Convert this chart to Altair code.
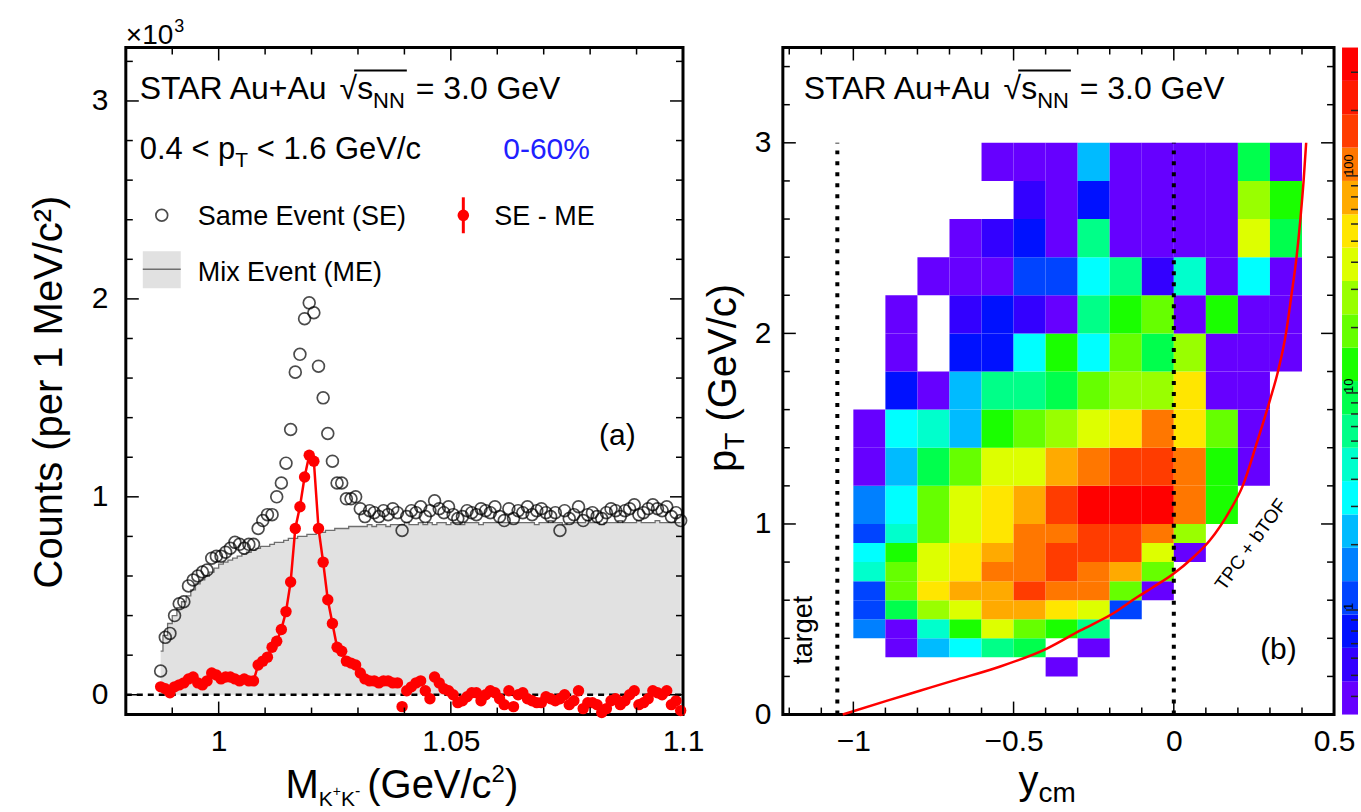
import math
import altair as alt
import pandas as pd

FONT = "Liberation Sans"

# ---------------------------------------------------------------- panel (a) data
MASS_FIRST_CENTRE = 0.9875   # GeV/c^2, centre of first 1 MeV bin
MASS_BIN = 0.001

se_counts = [  # Same Event, x10^3 per 1 MeV/c^2
    0.12, 0.29, 0.31, 0.40, 0.46, 0.47, 0.55, 0.58, 0.60, 0.62,
    0.63, 0.69, 0.70, 0.70, 0.72, 0.74, 0.77, 0.76, 0.74, 0.76,
    0.76, 0.84, 0.88, 0.91, 0.91, 1.00, 1.07, 1.17, 1.34, 1.63,
    1.72, 1.90, 1.98, 1.93, 1.66, 1.50, 1.32, 1.18, 1.07, 1.07,
    0.99, 0.99, 1.00, 0.94, 0.90, 0.93, 0.92, 0.90, 0.93, 0.91,
    0.94, 0.92, 0.83, 0.90, 0.93, 0.92, 0.95, 0.90, 0.93, 0.98,
    0.94, 0.92, 0.95, 0.91, 0.89, 0.90, 0.93, 0.92, 0.91, 0.94,
    0.93, 0.92, 0.95, 0.90, 0.88, 0.94, 0.89, 0.93, 0.92, 0.95,
    0.91, 0.93, 0.94, 0.92, 0.90, 0.92, 0.83, 0.93, 0.89, 0.91,
    0.95, 0.88, 0.91, 0.92, 0.90, 0.89, 0.92, 0.94, 0.93, 0.90,
    0.93, 0.94, 0.96, 0.91, 0.92, 0.94, 0.96, 0.94, 0.93, 0.95,
    0.90, 0.92, 0.88,
]
me_counts = [  # Mixed Event (normalised)
    0.22, 0.30, 0.36, 0.40, 0.44, 0.47, 0.50, 0.53, 0.56, 0.58,
    0.60, 0.62, 0.64, 0.66, 0.67, 0.68, 0.69, 0.70, 0.71, 0.72,
    0.73, 0.74, 0.75, 0.75, 0.76, 0.77, 0.77, 0.78, 0.79, 0.79,
    0.80, 0.80, 0.81, 0.81, 0.82, 0.82, 0.83, 0.83, 0.84, 0.84,
    0.84, 0.85, 0.85, 0.85, 0.85, 0.86, 0.85, 0.86, 0.86, 0.85,
    0.86, 0.86, 0.86, 0.87, 0.86, 0.86, 0.87, 0.86, 0.87, 0.86,
    0.87, 0.87, 0.86, 0.87, 0.87, 0.86, 0.87, 0.87, 0.87, 0.86,
    0.87, 0.87, 0.87, 0.87, 0.87, 0.87, 0.87, 0.87, 0.87, 0.87,
    0.87, 0.86, 0.87, 0.87, 0.88, 0.87, 0.87, 0.86, 0.87, 0.87,
    0.87, 0.87, 0.88, 0.87, 0.87, 0.86, 0.87, 0.87, 0.87, 0.88,
    0.87, 0.87, 0.87, 0.88, 0.87, 0.87, 0.87, 0.88, 0.87, 0.87,
    0.87, 0.87, 0.87,
]
sub_counts = [  # SE - ME
    0.04, 0.03, 0.01, 0.04, 0.05, 0.06, 0.08, 0.09, 0.06, 0.05,
    0.07, 0.11, 0.10, 0.08, 0.09, 0.09, 0.08, 0.07, 0.08, 0.07,
    0.07, 0.15, 0.17, 0.19, 0.24, 0.27, 0.33, 0.42, 0.57, 0.84,
    0.95, 1.10, 1.21, 1.18, 0.84, 0.67, 0.48, 0.36, 0.24, 0.22,
    0.17, 0.16, 0.15, 0.11, 0.08, 0.07, 0.07, 0.06, 0.07, 0.07,
    0.06, 0.06, -0.06, 0.02, 0.04, 0.06, 0.07, 0.02, -0.02, 0.09,
    0.06, 0.03, 0.02, 0.00, -0.04, -0.03, -0.01, 0.01, 0.01, -0.03,
    0.00, 0.02, 0.01, -0.02, -0.05, 0.02, -0.06, 0.00, 0.01, -0.02,
    -0.03, -0.04, -0.04, -0.01, -0.02, -0.03, -0.02, 0.00, -0.05, -0.03,
    0.02, -0.07, -0.04, -0.04, -0.05, -0.09, -0.07, -0.03, -0.02, -0.05,
    -0.03, 0.00, 0.02, -0.05, -0.04, -0.02, 0.02, 0.01, 0.00, 0.02,
    -0.05, -0.03, -0.08,
]
fit_range = [1.0065, 1.0315]   # range drawn with the red line

mass_x_major = [1.0, 1.05, 1.1]
mass_x_minor = [0.99, 1.01, 1.02, 1.03, 1.04, 1.06, 1.07, 1.08, 1.09]
counts_y_major = [0, 1, 2, 3]
counts_y_minor = [0.2, 0.4, 0.6, 0.8, 1.2, 1.4, 1.6, 1.8, 2.2, 2.4, 2.6, 2.8, 3.2]

# ---------------------------------------------------------------- panel (b) data
N = None
y_bin_low = [-1.0, -0.9, -0.8, -0.7, -0.6, -0.5, -0.4, -0.3, -0.2, -0.1, 0.0, 0.1, 0.2, 0.3]
y_bin_high = [-0.9, -0.8, -0.7, -0.6, -0.5, -0.4, -0.3, -0.2, -0.1, 0.0, 0.1, 0.2, 0.3, 0.4]
pt_bin_low = [0.2, 0.3, 0.4, 0.5, 0.6, 0.7, 0.8, 0.9, 1.0, 1.2, 1.4, 1.6, 1.8, 2.0, 2.2, 2.4, 2.6, 2.8]
pt_bin_high = [0.3, 0.4, 0.5, 0.6, 0.7, 0.8, 0.9, 1.0, 1.2, 1.4, 1.6, 1.8, 2.0, 2.2, 2.4, 2.6, 2.8, 3.0]

cnt_pt_020 = [N, N, N, N, N, N, 0.4, N, N, N, N, N, N, N]
cnt_pt_030 = [N, 0.4, 2.3, 3.3, 6.7, 9.5, N, 0.4, N, N, N, N, N, N]
cnt_pt_040 = [1.6, 0.4, 4.7, 13.5, 39, 19, 13.5, 6.7, N, N, N, N, N, N]
cnt_pt_050 = [1.15, 9.5, 27, 39, 79, 79, 56, 39, 1.15, N, N, N, N, N]
cnt_pt_060 = [1.15, 19, 56, 79, 79, 161, 113, 113, 19, 0.4, N, N, N, N]
cnt_pt_070 = [4.7, 19, 39, 56, 113, 113, 161, 113, 79, 19, N, N, N, N]
cnt_pt_080 = [3.3, 13.5, 39, 56, 79, 113, 161, 161, 161, 39, 0.4, N, N, N]
cnt_pt_090 = [1.15, 4.7, 19, 39, 56, 113, 113, 161, 161, 113, 27, N, N, N]
cnt_pt_100 = [1.6, 3.3, 19, 39, 56, 79, 161, 326, 326, 326, 113, 13.5, N, N]
cnt_pt_120 = [0.4, 2.3, 9.5, 19, 39, 39, 79, 113, 161, 161, 113, 13.5, 0.4, N]
cnt_pt_140 = [0.4, 3.3, 4.7, 2.3, 13.5, 19, 27, 39, 56, 113, 56, 19, 0.4, N]
cnt_pt_160 = [N, 0.8, 0.4, 2.3, 6.7, 6.7, 9.5, 19, 27, 27, 56, 0.4, 0.4, N]
cnt_pt_180 = [N, 0.4, N, 0.8, 0.8, 3.3, 13.5, 3.3, 19, 9.5, 27, 0.4, 0.4, 0.4]
cnt_pt_200 = [N, 0.4, N, 0.55, 0.8, 0.55, 0.4, 6.7, 13.5, 19, 0.4, 13.5, 0.4, 0.4]
cnt_pt_220 = [N, N, 0.4, 0.4, 0.4, 1.15, 1.15, 3.3, 6.7, 0.55, 4.7, 0.4, 3.3, 0.4]
cnt_pt_240 = [N, N, N, 0.4, 0.55, 0.8, 0.4, 6.7, 0.4, 0.4, 0.4, 0.4, 39, 9.5]
cnt_pt_260 = [N, N, N, N, N, 0.55, 0.4, 0.8, 0.4, 0.4, 0.4, 0.4, 27, 13.5]
cnt_pt_280 = [N, N, N, N, 0.4, 0.4, 0.4, 2.3, 0.4, 0.4, 0.4, 0.4, 9.5, 0.4]

# TPC + bTOF acceptance boundary (red curve)
curve_y = [-1.033, -0.894, -0.79, -0.688, -0.551, -0.396, -0.293, -0.19, -0.116, -0.066,
           0.0, 0.06, 0.112, 0.175, 0.215, 0.258, 0.30, 0.325, 0.35, 0.367,
           0.383, 0.395, 0.405, 0.413]
curve_pt = [0.0, 0.073, 0.126, 0.178, 0.247, 0.346, 0.44, 0.53, 0.614, 0.667,
            0.74, 0.824, 0.913, 1.07, 1.20, 1.42, 1.65, 1.8, 2.0, 2.2,
            2.4, 2.6, 2.8, 3.0]

ref_line_y = [-1.05, 0.0]     # target rapidity and mid-rapidity
ref_line_pt = [0.0, 3.0]

rap_x_major = [-1, -0.5, 0, 0.5]
rap_x_minor = [-1.2, -1.1, -0.9, -0.8, -0.7, -0.6, -0.4, -0.3, -0.2, -0.1, 0.1, 0.2, 0.3, 0.4]
pt_y_major = [0, 1, 2, 3]
pt_y_minor = [0.2, 0.4, 0.6, 0.8, 1.2, 1.4, 1.6, 1.8, 2.2, 2.4, 2.6, 2.8, 3.2, 3.4]

z_min, z_max = 0.33, 390.0
cb_major = [1, 10, 100]
cb_major_labels = ["1", "10", "100"]
cb_minor = [0.4, 0.5, 0.6, 0.7, 0.8, 0.9, 2, 3, 4, 5, 6, 7, 8, 9,
            20, 30, 40, 50, 60, 70, 80, 90, 200, 300]

palette = ["#6600ff", "#3300ff", "#0011ff", "#0044ff", "#0080ff", "#00bbff", "#00ffff",
           "#00ffcc", "#00ff88", "#00ff4d", "#1aff00", "#66ff00", "#99ff00", "#ddff00",
           "#ffe600", "#ffaa00", "#ff7700", "#ff3c00", "#ff1a00", "#ff0000"]

# ---------------------------------------------------------------- helpers
ONE = pd.DataFrame({"a": [0]})

CHAR_W = {" ": 278, "(": 333, ")": 333, "+": 584, "-": 333, ".": 278, "/": 278, "<": 584,
          "=": 584, "%": 889, "A": 667, "C": 722, "E": 667, "F": 611, "G": 778, "K": 667,
          "M": 833, "N": 722, "O": 778, "P": 667, "R": 722, "S": 667, "T": 611, "V": 667,
          "a": 556, "b": 556, "c": 500, "e": 556, "g": 556, "i": 222, "m": 833, "n": 556,
          "o": 556, "p": 556, "r": 333, "s": 500, "t": 278, "u": 556, "v": 500, "x": 500,
          "y": 500, "\u00d7": 584, "\u221a": 549}


def tw(s, size):
    return sum(CHAR_W.get(c, 556) for c in s) * size / 1000.0


def txt(s, x, y, size, color="black", align="left", angle=0, dx=0.0, dy=0.0, baseline="alphabetic"):
    return alt.Chart(ONE).mark_text(
        text=s, font=FONT, fontSize=size, color=color, align=align, baseline=baseline,
        angle=angle, dx=dx, dy=dy,
    ).encode(x=alt.value(x), y=alt.value(y))


def seq(pieces, x, y, angle=0, color="black"):
    """pieces: (text, size, baseline shift, gap before) -- gaps replace leading spaces,
    which SVG would collapse."""
    out, off = [], 0.0
    for s, size, shift, gap in pieces:
        off += gap
        out.append(txt(s, x, y, size, color=color, angle=angle, dx=off, dy=shift))
        off += tw(s, size)
    return out


def hline(x0, x1, y, color="black", width=2.0):
    return alt.Chart(ONE).mark_rule(color=color, strokeWidth=width).encode(
        x=alt.value(x0), x2=alt.value(x1), y=alt.value(y))


def star_label(x, y):
    sp = tw(" ", 32)
    pieces = [("STAR Au+Au", 32, 0, 0), ("\u221a", 32, 0, sp), ("s", 32, 0, 0),
              ("NN", 22, 9, 0), ("= 3.0 GeV", 32, 0, sp + 2)]
    layers = seq(pieces, x, y)
    xb0 = x + tw("STAR Au+Au \u221a", 32) - 3
    xb1 = x + tw("STAR Au+Au \u221as", 32) + tw("NN", 22) + 2
    layers.append(hline(xb0, xb1, y - 29, width=1.8))
    return layers


def frame_ticks(xs, ys, axx, axy, W, H, x_major, x_minor, y_major, y_minor, maj=13, mnr=7):
    layers = []
    for vals, L in ((x_major, maj), (x_minor, mnr)):
        base = alt.Chart(pd.DataFrame({"t": vals})).mark_rule(color="black", strokeWidth=1.5)
        xenc = alt.X("t:Q", scale=xs, axis=axx, title=None)
        layers.append(base.encode(x=xenc, y=alt.value(H), y2=alt.value(H - L)))
        layers.append(base.encode(x=xenc, y=alt.value(0), y2=alt.value(L)))
    for vals, L in ((y_major, maj), (y_minor, mnr)):
        base = alt.Chart(pd.DataFrame({"t": vals})).mark_rule(color="black", strokeWidth=1.5)
        yenc = alt.Y("t:Q", scale=ys, axis=axy, title=None)
        layers.append(base.encode(y=yenc, x=alt.value(0), x2=alt.value(L)))
        layers.append(base.encode(y=yenc, x=alt.value(W), x2=alt.value(W - L)))
    return layers


AXIS = dict(domain=False, ticks=False, grid=False, labelFont=FONT, labelFontSize=30,
            labelColor="black", labelFlush=False, labelOverlap=False, format="~g")

# ---------------------------------------------------------------- panel (a)
W_A, H_A = 558, 668
xa = alt.Scale(domain=[0.98, 1.1], nice=False, zero=False)
ya = alt.Scale(domain=[-0.1, 3.27], nice=False, zero=False)
ax_xa = alt.Axis(values=mass_x_major, labelPadding=12, **AXIS)
ax_ya = alt.Axis(values=counts_y_major, labelPadding=18, **AXIS)


def XA(f):
    return alt.X(f, scale=xa, axis=ax_xa, title=None)


def YA(f):
    return alt.Y(f, scale=ya, axis=ax_ya, title=None)


mass = [round(MASS_FIRST_CENTRE + MASS_BIN * i, 4) for i in range(len(se_counts))]
df_a = pd.DataFrame({"m": mass, "se": se_counts, "me": me_counts, "sub": sub_counts})

me_area = alt.Chart(df_a).mark_area(interpolate="step", color="#e1e1e1").encode(
    x=XA("m:Q"), y=YA("me:Q"), y2=alt.datum(0))
me_line = alt.Chart(df_a).mark_line(interpolate="step", color="#6f6f6f", strokeWidth=1.3).encode(
    x=XA("m:Q"), y=YA("me:Q"))
zero_line = alt.Chart(pd.DataFrame({"z": [0.0]})).mark_rule(
    color="black", strokeWidth=2.5, strokeDash=[6, 5]).encode(
    y=YA("z:Q"), x=alt.value(0), x2=alt.value(W_A))
se_pts = alt.Chart(df_a).mark_point(shape="circle", filled=False, color="black", size=140, strokeWidth=1.7).encode(
    x=XA("m:Q"), y=YA("se:Q"))
sub_line = alt.Chart(df_a).transform_filter(
    (alt.datum.m >= fit_range[0]) & (alt.datum.m <= fit_range[1])
).mark_line(color="#ff0000", strokeWidth=2.5).encode(x=XA("m:Q"), y=YA("sub:Q"))
sub_pts = alt.Chart(df_a).mark_circle(color="#ff0000", size=130, opacity=1).encode(
    x=XA("m:Q"), y=YA("sub:Q"))

anchor = alt.Chart(ONE).mark_rule(strokeOpacity=0, color="white").encode(
    x=alt.value(-124), x2=alt.value(-123), y=alt.value(-45), y2=alt.value(-44))

layers_a = [anchor, me_area, me_line, zero_line, se_pts, sub_line, sub_pts]
layers_a += frame_ticks(xa, ya, ax_xa, ax_ya, W_A, H_A, mass_x_major, mass_x_minor,
                        counts_y_major, counts_y_minor)
layers_a += seq([("\u00d710", 28, 0, 0), ("3", 18, -12, 1)], 0, -4)
layers_a += star_label(14, 52)
layers_a += seq([("0.4 < p", 31, 0, 0), ("T", 21, 8, 0), ("< 1.6 GeV/c", 31, 0, tw(" ", 31))], 14, 112)
layers_a.append(txt("0-60%", 378, 112, 30, color="#2020ff"))
# legend
layers_a.append(alt.Chart(ONE).mark_point(shape="circle", filled=False, color="black", size=140, strokeWidth=1.7)
                .encode(x=alt.value(36), y=alt.value(168)))
layers_a.append(txt("Same Event (SE)", 72, 178, 27))
layers_a.append(alt.Chart(ONE).mark_rule(color="#ff0000", strokeWidth=3)
                .encode(x=alt.value(338), y=alt.value(150), y2=alt.value(186)))
layers_a.append(alt.Chart(ONE).mark_circle(color="#ff0000", size=135, opacity=1)
                .encode(x=alt.value(338), y=alt.value(168)))
layers_a.append(txt("SE - ME", 369, 178, 27))
layers_a.append(alt.Chart(ONE).mark_rect(color="#e1e1e1")
                .encode(x=alt.value(17), x2=alt.value(55), y=alt.value(204), y2=alt.value(241)))
layers_a.append(hline(17, 55, 222, color="#6f6f6f", width=1.5))
layers_a.append(txt("Mix Event (ME)", 72, 234, 27))
layers_a.append(txt("(a)", 474, 398, 30))
# axis titles
layers_a.append(txt("Counts (per 1 MeV/c\u00b2)", -64, 345, 40, align="center", angle=270))
layers_a += seq([("M", 40, 0, 0), ("K", 21, 8, 0), ("+", 14, -2, 0), ("K", 21, 8, 0), ("-", 16, -2, 0),
                 ("(GeV/c", 40, 0, 7), ("2", 24, -16, 0), (")", 40, 0, 0)], 160, 752)

left = alt.layer(*layers_a).properties(width=W_A, height=H_A)

# ---------------------------------------------------------------- panel (b)
W_B, H_B = 552, 668
xb = alt.Scale(domain=[-1.22, 0.5], nice=False, zero=False)
yb = alt.Scale(domain=[0, 3.5], nice=False, zero=False)
ax_xb = alt.Axis(values=rap_x_major, labelPadding=12, **AXIS)
ax_yb = alt.Axis(values=pt_y_major, labelPadding=12, **AXIS)


def XB(f):
    return alt.X(f, scale=xb, axis=ax_xb, title=None)


def YB(f):
    return alt.Y(f, scale=yb, axis=ax_yb, title=None)


lo, hi = math.log10(z_min), math.log10(z_max)
step = (hi - lo) / len(palette)
thresholds = [10 ** (lo + step * k) for k in range(1, len(palette))]
cscale = alt.Scale(type="threshold", domain=thresholds, range=palette)

rows = [cnt_pt_020, cnt_pt_030, cnt_pt_040, cnt_pt_050, cnt_pt_060, cnt_pt_070, cnt_pt_080,
        cnt_pt_090, cnt_pt_100, cnt_pt_120, cnt_pt_140, cnt_pt_160, cnt_pt_180, cnt_pt_200,
        cnt_pt_220, cnt_pt_240, cnt_pt_260, cnt_pt_280]
cells = []
for r, row in enumerate(rows):
    for c, v in enumerate(row):
        if v is not None:
            cells.append({"x0": y_bin_low[c], "x1": y_bin_high[c],
                          "p0": pt_bin_low[r], "p1": pt_bin_high[r], "v": v})
df_cells = pd.DataFrame(cells)

heat = alt.Chart(df_cells).mark_rect(strokeWidth=0).encode(
    x=XB("x0:Q"), x2="x1:Q", y=YB("p0:Q"), y2="p1:Q",
    color=alt.Color("v:Q", scale=cscale, legend=None),
)
df_ref = pd.DataFrame({"y": ref_line_y, "p0": [ref_line_pt[0]] * 2, "p1": [ref_line_pt[1]] * 2})
ref_lines = alt.Chart(df_ref).mark_rule(color="black", strokeWidth=4, strokeDash=[4, 7]).encode(
    x=XB("y:Q"), y=YB("p0:Q"), y2="p1:Q")
curve = alt.Chart(pd.DataFrame({"y": curve_y, "pt": curve_pt})).mark_line(
    color="#ff0000", strokeWidth=2.5, interpolate="monotone").encode(
    x=XB("y:Q"), y=YB("pt:Q"), order="pt:Q")

layers_b = [heat, ref_lines, curve]
layers_b += frame_ticks(xb, yb, ax_xb, ax_yb, W_B, H_B, rap_x_major, rap_x_minor, pt_y_major, pt_y_minor)
layers_b += star_label(21, 52)
layers_b.append(txt("target", 29, 618, 27, angle=270))
layers_b.append(txt("TPC + bTOF", 442, 545, 19, angle=306))
layers_b.append(txt("(b)", 478, 612, 30))
layers_b += seq([("p", 40, 0, 0), ("T", 28, 8, 0), ("(GeV/c)", 40, 0, tw(" ", 40))], -47, 425, angle=270)
layers_b += seq([("y", 40, 0, 0), ("cm", 28, 8, 0)], 236, 748)

# colour bar
yc = alt.Scale(type="log", domain=[z_min, z_max], nice=False)
bands = pd.DataFrame({
    "lo": [10 ** (lo + step * k) for k in range(len(palette))],
    "hi": [10 ** (lo + step * (k + 1)) for k in range(len(palette))],
    "mid": [10 ** (lo + step * (k + 0.5)) for k in range(len(palette))],
})
CB0, CB1 = W_B + 8, W_B + 24
cb_rect = alt.Chart(bands).mark_rect(strokeWidth=0).encode(
    x=alt.value(CB0), x2=alt.value(CB1),
    y=alt.Y("lo:Q", scale=yc, axis=None), y2="hi:Q",
    color=alt.Color("mid:Q", scale=cscale, legend=None))
cb_minor_t = alt.Chart(pd.DataFrame({"t": cb_minor})).mark_rule(color="#222222", strokeWidth=1.5).encode(
    y=alt.Y("t:Q", scale=yc, axis=None), x=alt.value(CB1 - 7), x2=alt.value(CB1))
cb_major_t = alt.Chart(pd.DataFrame({"t": cb_major})).mark_rule(color="#222222", strokeWidth=1.5).encode(
    y=alt.Y("t:Q", scale=yc, axis=None), x=alt.value(CB1 - 12), x2=alt.value(CB1))
cb_labels = alt.Chart(pd.DataFrame({"t": cb_major, "lab": cb_major_labels})).mark_text(
    font=FONT, fontSize=13, color="black", angle=270, align="left", baseline="middle").encode(
    y=alt.Y("t:Q", scale=yc, axis=None), x=alt.value(CB0 + 7), text="lab:N")

right = alt.layer(alt.layer(*layers_b), alt.layer(cb_rect, cb_minor_t, cb_major_t, cb_labels)
                  ).resolve_scale(y="independent").properties(width=W_B, height=H_B)

chart = alt.hconcat(left, right, spacing=100, bounds="flush").properties(
    padding=0
).configure_view(stroke="black", strokeWidth=3)

chart.save("out.html", embed_options={"renderer": "svg", "actions": False})
